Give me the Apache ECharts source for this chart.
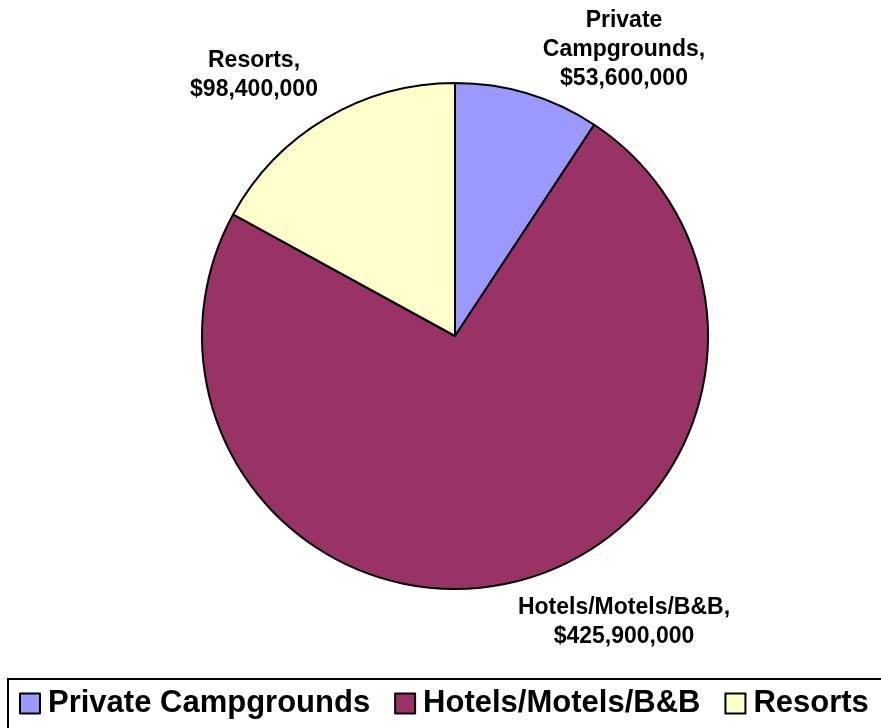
<!DOCTYPE html>
<html>
<head>
<meta charset="utf-8">
<script src="https://cdn.jsdelivr.net/npm/echarts@6/dist/echarts.min.js"></script>
<style>
  html, body { margin: 0; padding: 0; background: #fff; }
  #chart { width: 881px; height: 728px; }
</style>
</head>
<body>
<div id="chart"></div>
<script>
const categories = ['Private Campgrounds', 'Hotels/Motels/B&B', 'Resorts'];
const revenue = [53600000, 425900000, 98400000];
const sliceColors = ['#9999FF', '#993366', '#FFFFCC'];

// where excel put the data labels (centre of each label block)
const labelSpots = [[624, 50], [624, 622], [254, 75]];

const money = v => '$' + v.toLocaleString('en-US');

const chart = echarts.init(document.getElementById('chart'));
const option = {
  animation: false,
  textStyle: {fontFamily: 'Liberation Sans, Arial, sans-serif'},
  graphic: [{
    type: 'rect',
    shape: {x: 8, y: 679, width: 900, height: 100},
    style: {fill: 'none', stroke: '#000', lineWidth: 2},
    silent: true
  }],
  legend: {
    left: 14,
    top: 683,
    itemWidth: 20,
    itemHeight: 20,
    itemGap: 24,
    icon: 'rect',
    selectedMode: false,
    textStyle: {
      fontSize: 31,
      fontWeight: 'bold',
      color: '#000',
      padding: [0, 0, 0, 3]
    },
    data: categories
  },
  series: [{
    type: 'pie',
    center: [455, 336],
    radius: 253,
    startAngle: 90,
    clockwise: true,
    silent: true,
    itemStyle: {borderColor: '#000', borderWidth: 2},
    label: {
      show: true,
      position: 'outside',
      fontSize: 23,
      fontWeight: 'bold',
      lineHeight: 29,
      color: '#000',
      align: 'center',
      formatter: p => p.name.replace(' ', '\n') + ',\n' + money(p.value)
    },
    labelLine: {show: false},
    labelLayout: p => ({
      x: labelSpots[p.dataIndex][0],
      y: labelSpots[p.dataIndex][1],
      align: 'center',
      verticalAlign: 'middle'
    }),
    data: categories.map((name, i) => ({
      name: name,
      value: revenue[i],
      itemStyle: {color: sliceColors[i]}
    }))
  }]
};
chart.setOption(option);
</script>
</body>
</html>
